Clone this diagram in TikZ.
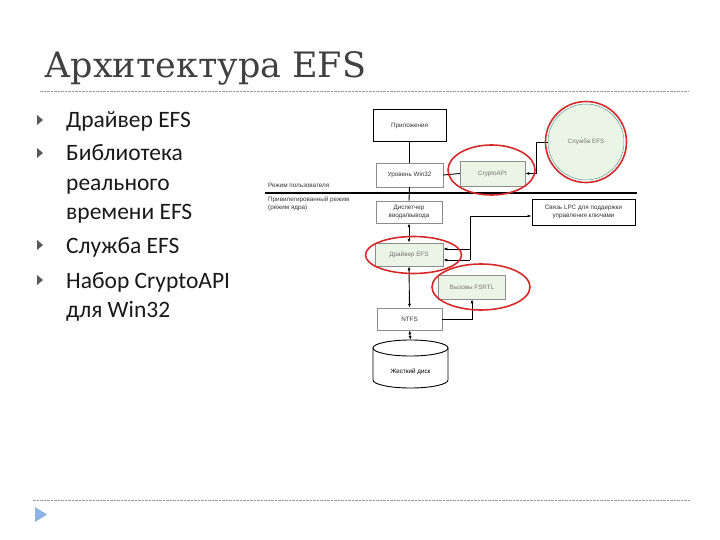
\documentclass[tikz,border=0pt]{standalone}
\usepackage{fontspec}
\setmainfont{Carlito}
\newfontfamily\titlefont{DejaVu Serif}
\newfontfamily\diafont{Liberation Sans}
\usetikzlibrary{arrows.meta,shapes.geometric}
\definecolor{titlegray}{HTML}{404040}
\definecolor{ringred}{HTML}{D42A2A}
\definecolor{palegreen}{HTML}{EBF5E6}
\definecolor{tealline}{HTML}{4F9A8C}
\definecolor{slideblue}{HTML}{8DB3E2}
\newcommand{\bultri}[1]{\fill[black!65] (37,#1-5) -- (43,#1) -- (37,#1+5) -- cycle;}
\tikzset{
  diatext/.style={font=\diafont\fontsize{6.3}{7.4}\selectfont, text=black!80},
  plainbox/.style={diatext, draw=black!45, line width=0.5pt, fill=white, inner sep=0pt, align=center},
  greenbox/.style={plainbox, fill=palegreen, text=black!55},
  heavybox/.style={plainbox, draw=black, line width=1pt},
  redring/.style={draw=ringred, line width=1.6pt, ellipse, inner sep=0pt},
  conn/.style={line width=0.9pt},
  arr/.style={conn, -{Latex[length=4pt,width=3pt]}},
  dblarr/.style={conn, {Latex[length=4pt,width=3pt]}-{Latex[length=4pt,width=3pt]}},
  bullettext/.style={anchor=base west, font=\fontsize{23.5}{28}\selectfont, text=black!90, inner sep=0pt},
  sep/.style={draw=black!40, line width=0.7pt, dash pattern=on 2.5pt off 1pt}
}
\begin{document}
\begin{tikzpicture}[x=1pt,y=-1pt]
\useasboundingbox (0,0) rectangle (720,540);

% title
\node[anchor=base west, inner sep=0pt, font=\titlefont\fontsize{35}{40}\selectfont, text=titlegray] (title) at (44,78) {Архитектура EFS};
\draw[sep] (40,91) -- (688,91);
\draw[sep] (33,500) -- (690,500);
\fill[slideblue] (35,507) -- (47,514.5) -- (35,522) -- cycle;

% bullets
\bultri{120}
\bultri{153}
\bultri{245}
\bultri{280}
\node[bullettext] (b1) at (66,128) {Драйвер EFS};
\node[bullettext] (b2) at (66,161) {Библиотека};
\node[bullettext] (b2a) at (66,191) {реального};
\node[bullettext] (b2b) at (66,220) {времени EFS};
\node[bullettext] (b3) at (66,253) {Служба EFS};
\node[bullettext] (b4) at (66,288) {Набор CryptoAPI};
\node[bullettext] (b4a) at (66,317) {для Win32};

% user / kernel boundary
\draw[line width=2.2pt] (265,193) -- (637,193);
\node[diatext, anchor=base west, inner sep=0pt] (umode) at (268,188) {Режим пользователя};
\node[diatext, anchor=north west, inner sep=0pt, align=left] (kmode) at (268,197) {Привилегированный режим\\(режим ядра)};

% boxes
\node[heavybox, minimum width=73, minimum height=32] (app) at (409.5,126) {Приложения};
\node[plainbox, minimum width=67, minimum height=24] (win) at (409.5,175) {Уровень Win32};
\node[greenbox, minimum width=65, minimum height=25] (crypto) at (492.5,173.5) {CryptoAPI};
\node[circle, draw=tealline, line width=0.5pt, fill=palegreen, diatext, text=black!55, minimum size=76, inner sep=0pt] (svc) at (586,142) {Служба EFS};
\node[plainbox, minimum width=66, minimum height=22] (io) at (409,212) {Диспетчер\\ввода/вывода};
\node[heavybox, line width=0.8pt, minimum width=103, minimum height=26] (lpc) at (583.5,212) {Связь LPC для поддержки\\управления ключами};
\node[greenbox, minimum width=68, minimum height=23] (drv) at (409,254.5) {Драйвер EFS};
\node[greenbox, minimum width=67, minimum height=24] (fsrtl) at (472,287) {Вызовы FSRTL};
\node[plainbox, minimum width=65, minimum height=22] (ntfs) at (409.5,319) {NTFS};

% disk
\draw[line width=0.9pt, fill=white] (373,348) -- (373,380) arc[start angle=180, end angle=0, x radius=37.5, y radius=8] -- (448,348);
\draw[line width=0.9pt, fill=white] (410.5,348) ellipse[x radius=37.5, y radius=8];
\coordinate (disktop) at (410.5,340);
\node[diatext, text=black] (disk) at (410.5,372) {Жесткий диск};

% connectors
\draw[conn] (app.south) -- (win.north);
\draw[conn] (win.east) -- (crypto.west);
\draw[arr] (svc.west) -- ++(-11,0) |- (crypto.east);
\draw[conn] (win.south) -- (io.north);
\draw[dblarr] (io.south) -- (drv.north);
\draw[dblarr] (drv.south) -- (ntfs.north);
\draw[dblarr] (ntfs.south) -- (disktop);
\coordinate (hub) at (470,216);
\coordinate (hubend) at (470,260);
\draw[arr] (hub) -- (hub -| lpc.west);
\draw[conn] (hub) -- (hubend);
\draw[arr] (470,249) -- (drv.east |- 0,249);
\draw[arr] (hubend) -- (drv.east |- hubend);
\draw[arr] (ntfs.east) -| (fsrtl.south);

% red marks
\node[redring, minimum width=87, minimum height=50] (cryptoring) at (491.5,170) {};
\node[redring, circle, minimum size=81] (svcring) at (586,142) {};
\node[redring, minimum width=96, minimum height=37] (drvring) at (413.5,255) {};
\node[redring, minimum width=98, minimum height=46] (fsrtlring) at (481,287) {};
\end{tikzpicture}
\end{document}
